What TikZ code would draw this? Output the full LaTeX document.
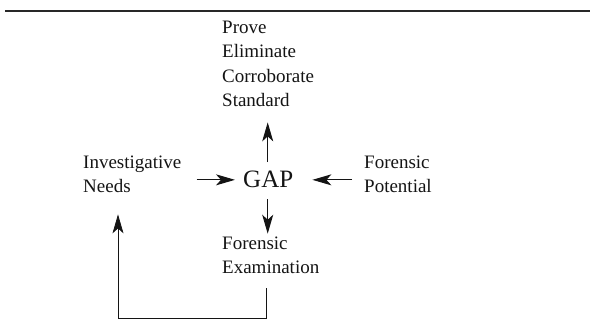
\documentclass[tikz,border=0pt]{standalone}
\usepackage{fontspec}
\setmainfont{Liberation Serif}
\usepackage{tikz}
\usetikzlibrary{arrows.meta,positioning}
\definecolor{gapink}{RGB}{20,20,20}
\definecolor{gaprule}{RGB}{40,40,40}
\tikzstyle{arrow} = [line width=1.1pt,-{Stealth[length=19pt,width=11pt,inset=5pt]},color=gapink]
\tikzstyle{label} = [inner sep=0pt, align=left, anchor=base west, text=gapink, font=\fontsize{19}{24.5}\selectfont]

\begin{document}
\begin{tikzpicture}[x=1pt, y=-1pt]
\useasboundingbox (0,0) rectangle (590,328);
% Rule at the top
\draw[line width=1.5pt, gaprule] (5,11) -- (590,11);

% Texts (base = last line)
\node (gap) [label, font=\fontsize{25}{30}\selectfont] at (243,188) {GAP};
\node (prov) [label] at (222,107) {Prove\\Eliminate\\Corroborate\\Standard};
\node (inv) [label] at (83,193) {Investigative\\Needs};
\node (fpot) [label] at (364,193) {Forensic\\Potential};
\node (fexam) [label] at (222,274) {Forensic\\Examination};

% Arrows
\draw[arrow, shorten <=15pt, shorten >=8pt] (inv.east |- gap.center) -- (gap.west);
\draw[arrow, shorten <=12pt, shorten >=19pt] (fpot.west |- gap.center) -- (gap.east);
\draw[arrow, shorten <=9pt, shorten >=15pt] ([xshift=-0.5pt]gap.north) -- ([xshift=-0.5pt]gap.north |- prov.south);
\draw[arrow, shorten <=11pt, shorten >=3pt] ([xshift=-0.5pt]gap.south) -- ([xshift=-0.5pt]gap.south |- fexam.north);

% Back to the needs
\coordinate (back) at (118,318);
\draw[arrow, line width=0.8pt] ([yshift=-14pt, xshift=-2pt]fexam.south -| gap.south) -- ([xshift=-2pt]gap.south |- back) -- (back) -- ([yshift=-21pt]back |- inv.south);
\end{tikzpicture}
\end{document}
